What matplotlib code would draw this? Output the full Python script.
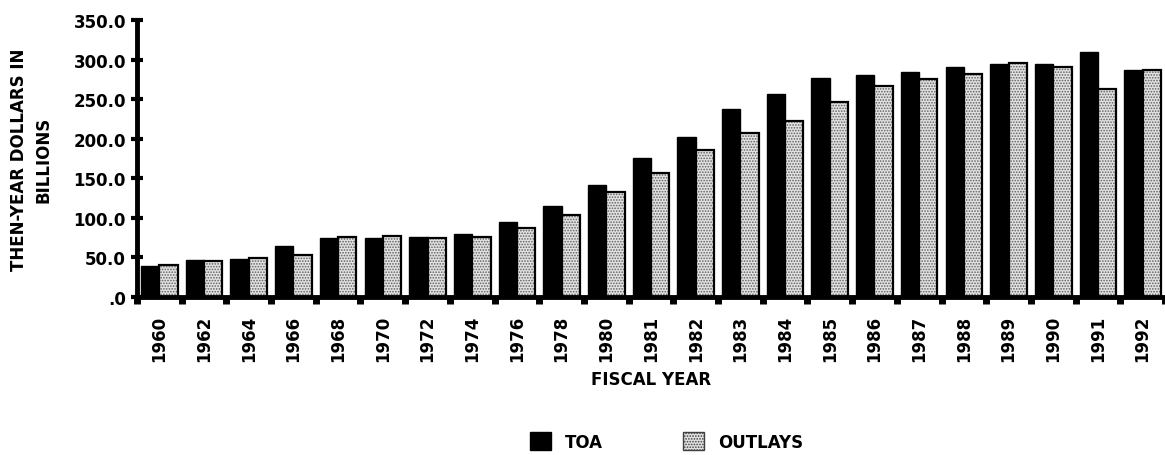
import numpy as np
import matplotlib
matplotlib.use("Agg")
import matplotlib.pyplot as plt
from matplotlib.patches import Patch

years = ["1960", "1962", "1964", "1966", "1968", "1970", "1972", "1974", "1976", "1978",
         "1980", "1981", "1982", "1983", "1984", "1985", "1986", "1987", "1988", "1989",
         "1990", "1991", "1992"]
toa = [39, 47, 48, 64, 75, 75, 76, 80, 95, 115, 142, 176, 202, 237, 257, 277, 280, 284,
       290, 294, 295, 310, 287]
outlays = [41, 45, 49, 53, 76, 77, 74, 76, 87, 103, 133, 157, 186, 207, 222, 247, 267, 275,
           282, 296, 291, 263, 287]
yticks = [0, 50, 100, 150, 200, 250, 300, 350]
ytick_labels = [".0", "50.0", "100.0", "150.0", "200.0", "250.0", "300.0", "350.0"]

plt.rcParams["font.family"] = ["DejaVu Sans"]
plt.rcParams["font.weight"] = "bold"
plt.rcParams["hatch.linewidth"] = 0.8

fig = plt.figure(figsize=(11.65, 4.56), dpi=100)
ax = fig.add_axes([137 / 1165, 158 / 456, 1028 / 1165, 277 / 456])

x = np.arange(len(years))
w = 0.41
ax.bar(x - w / 2, toa, w, color="black", edgecolor="black", lw=1)
ax.bar(x + w / 2, outlays, w, color="#e2e2e2", hatch="......", edgecolor="#606060", lw=0)
ax.bar(x + w / 2, outlays, w, fill=False, edgecolor="black", lw=1.6)

ax.set_xlim(-0.5, 22.45)
ax.set_ylim(0, 350)
ax.set_yticks(yticks)
ax.set_yticklabels(ytick_labels, fontsize=12, fontweight="bold")
ax.set_xticks(x)
ax.set_xticklabels(years, rotation=90, fontsize=12, fontweight="bold")
ax.set_xticks(np.arange(len(years) + 1) - 0.5, minor=True)
ax.tick_params(axis="x", which="major", length=0, pad=13)
ax.tick_params(axis="x", which="minor", length=5, width=5, direction="out")
ax.tick_params(axis="y", length=8, width=3, direction="inout", pad=4)

for s in ("top", "right"):
    ax.spines[s].set_visible(False)
ax.spines["left"].set_linewidth(3.5)
ax.spines["bottom"].set_linewidth(3.5)

ax.set_ylabel("THEN-YEAR DOLLARS IN\nBILLIONS", fontsize=12, fontweight="bold",
              linespacing=1.45, labelpad=15)
ax.set_xlabel("FISCAL YEAR", fontsize=12, fontweight="bold", labelpad=6)

handles = [Patch(facecolor="black", edgecolor="black"),
           Patch(facecolor="#e2e2e2", hatch="......", edgecolor="#404040", lw=1)]
fig.legend(handles, ["TOA", "OUTLAYS"], loc="center", bbox_to_anchor=(0.572, 0.03),
           ncol=2, frameon=False, handlelength=1.3, handleheight=1.3,
           handletextpad=0.8, columnspacing=4.8, prop={"weight": "bold", "size": 12})

fig.savefig("out.png", dpi=100)
